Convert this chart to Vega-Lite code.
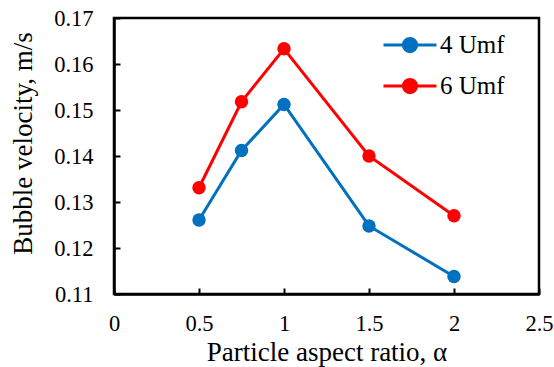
{
  "$schema": "https://vega.github.io/schema/vega-lite/v6.json",
  "width": 425,
  "height": 276,
  "autosize": {"type": "none"},
  "padding": {"left": 114, "top": 18, "right": 15, "bottom": 73},
  "background": "white",
  "config": {
    "font": "Liberation Serif",
    "view": {"stroke": "#000", "strokeWidth": 2.5},
    "axis": {
      "grid": false,
      "domainColor": "#000",
      "domainWidth": 2.5,
      "tickColor": "#000",
      "tickWidth": 2,
      "tickSize": -6,
      "labelColor": "#000",
      "labelFont": "Liberation Serif",
      "labelFontSize": 22.5,
      "titleColor": "#000",
      "titleFont": "Liberation Serif",
      "titleFontSize": 27,
      "titleFontWeight": "normal"
    }
  },
  "data": {
    "values": [
      {"ratio": 0.5, "velocity": 0.1261, "series": "4 Umf"},
      {"ratio": 0.75, "velocity": 0.1412, "series": "4 Umf"},
      {"ratio": 1.0, "velocity": 0.1512, "series": "4 Umf"},
      {"ratio": 1.5, "velocity": 0.1248, "series": "4 Umf"},
      {"ratio": 2.0, "velocity": 0.1138, "series": "4 Umf"},
      {"ratio": 0.5, "velocity": 0.1331, "series": "6 Umf"},
      {"ratio": 0.75, "velocity": 0.1518, "series": "6 Umf"},
      {"ratio": 1.0, "velocity": 0.1633, "series": "6 Umf"},
      {"ratio": 1.5, "velocity": 0.1400, "series": "6 Umf"},
      {"ratio": 2.0, "velocity": 0.1270, "series": "6 Umf"}
    ]
  },
  "encoding": {
    "x": {
      "field": "ratio",
      "type": "quantitative",
      "scale": {"domain": [0, 2.5], "nice": false, "zero": false},
      "axis": {
        "title": "Particle aspect ratio, α",
        "values": [0, 0.5, 1, 1.5, 2, 2.5],
        "format": "~g",
        "labelPadding": 24,
        "labelFlush": false,
        "titleY": 66,
        "titleBaseline": "alphabetic"
      }
    },
    "y": {
      "field": "velocity",
      "type": "quantitative",
      "scale": {"domain": [0.11, 0.17], "nice": false, "zero": false},
      "axis": {
        "title": "Bubble velocity, m/s",
        "values": [0.11, 0.12, 0.13, 0.14, 0.15, 0.16, 0.17],
        "format": ".2f",
        "labelPadding": 27,
        "labelFlush": false,
        "titleX": -91,
        "titleY": 125,
        "titleAlign": "center",
        "titleBaseline": "middle",
        "titleAngle": -90
      }
    },
    "color": {
      "field": "series",
      "type": "nominal",
      "scale": {"domain": ["4 Umf", "6 Umf"], "range": ["#0070C0", "#FF0000"]},
      "legend": {
        "title": null,
        "orient": "none",
        "legendX": 268,
        "legendY": -1,
        "padding": 0,
        "symbolType": "M-1,0H1M0,-0.25A0.25,0.25,0,1,1,0,0.25A0.25,0.25,0,1,1,0,-0.25Z",
        "symbolSize": 2809,
        "symbolStrokeWidth": 3,
        "symbolOpacity": 1,
        "labelFont": "Liberation Serif",
        "labelFontSize": 25,
        "labelColor": "#000",
        "labelOffset": 2,
        "rowPadding": -1
      }
    }
  },
  "layer": [
    {"mark": {"type": "line", "strokeWidth": 3}},
    {"mark": {"type": "point", "filled": true, "size": 180, "opacity": 1}}
  ]
}
